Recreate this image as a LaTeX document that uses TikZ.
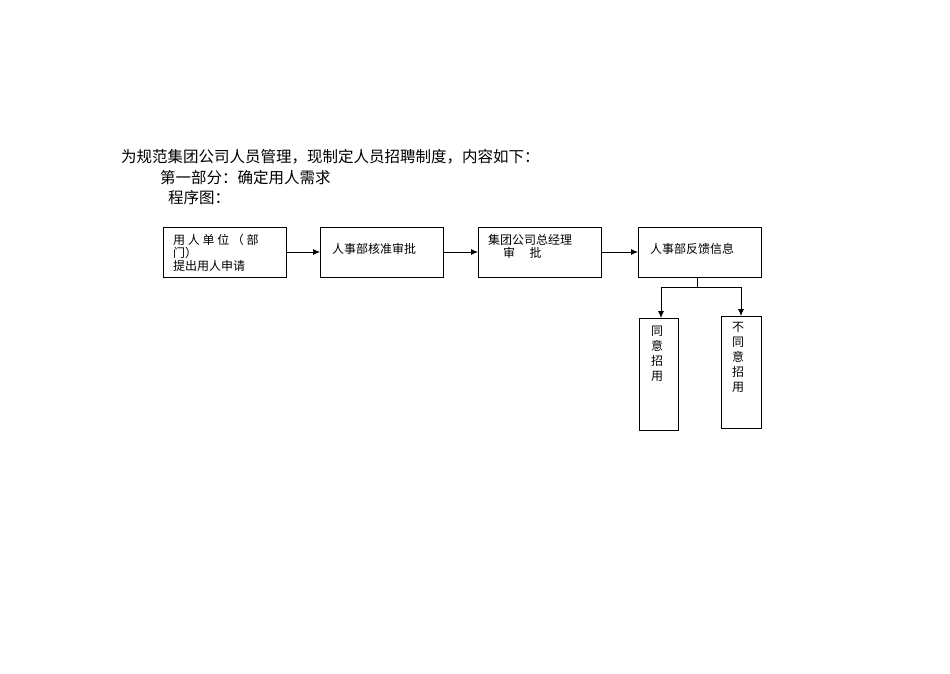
\documentclass[tikz,border=0pt]{standalone}
\usepackage{fontspec}
\setmainfont{Noto Sans CJK SC}
\usetikzlibrary{arrows.meta}
\begin{document}
\begin{tikzpicture}[x=1pt,y=-1pt,
  bx/.style={draw,line width=0.9pt},
  con/.style={line width=0.8pt,-{Latex[length=7pt,width=6pt]}},
  t/.style={anchor=west,inner sep=0,font=\fontsize{12}{13}\selectfont},
  vt/.style={align=center,inner sep=0,font=\fontsize{12}{15}\selectfont},
  hd/.style={anchor=west,inner sep=0,font=\fontsize{15.5}{17}\selectfont}]
\useasboundingbox (0,0) rectangle (950,673);
\node[hd] (h1) at (121,157) {为规范集团公司人员管理，现制定人员招聘制度，内容如下：};
\node[hd] (h2) at (160,178) {第一部分：确定用人需求};
\node[hd] (h3) at (168,198) {程序图：};
\draw[bx] (163,227) rectangle (286,277);
\node[t] (b1) at (173,240) {用 人 单 位 （ 部};
\node[t] (b1b) at (173,253) {门）};
\node[t] (b1c) at (173,266) {提出用人申请};
\draw[bx] (320,227) rectangle (443,277);
\node[t] (b2) at (332,249) {人事部核准审批};
\draw[bx] (478,227) rectangle (601,277);
\node[t] (b3) at (488,240) {集团公司总经理};
\node[t] (b3b) at (503,253) {审\hspace{1.2em}批};
\draw[bx] (638,227) rectangle (761,277);
\node[t] (b4) at (650,249) {人事部反馈信息};
\draw[bx] (639,318) rectangle (678,430);
\node[vt,anchor=north] (y) at (657,326) {同\\意\\招\\用};
\draw[bx] (721,316) rectangle (761,428);
\node[vt,anchor=north] (n) at (738,322) {不\\同\\意\\招\\用};
\coordinate (a1) at (286,252); \coordinate (a1e) at (320,252);
\coordinate (a2) at (443,252); \coordinate (a2e) at (478,252);
\coordinate (a3) at (601,252); \coordinate (a3e) at (638,252);
\draw[con] (a1) -- (a1e);
\draw[con] (a2) -- (a2e);
\draw[con] (a3) -- (a3e);
\coordinate (s) at (697,277); \coordinate (j) at (697,287);
\coordinate (l) at (661,287); \coordinate (r) at (741,287);
\coordinate (le) at (661,318); \coordinate (re) at (741,316);
\draw[line width=0.8pt] (s) -- (j) (l) -- (r);
\draw[con] (l) -- (le);
\draw[con] (r) -- (re);
\end{tikzpicture}
\end{document}
